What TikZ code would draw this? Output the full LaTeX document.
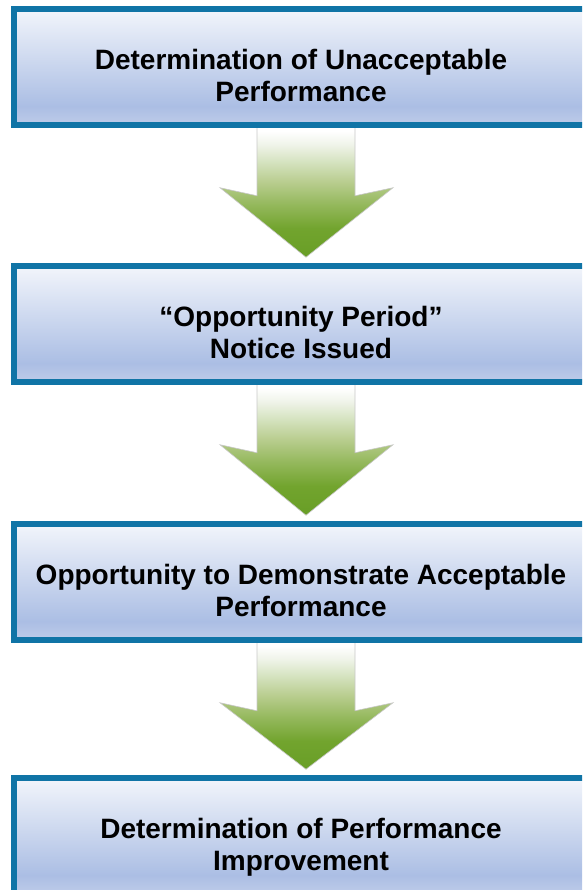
\documentclass[tikz,border=0pt]{standalone}
\usepackage{fontspec}
\setmainfont{Liberation Sans}
\usetikzlibrary{calc,backgrounds}

% frame and pane colours
\definecolor{frameblue}{RGB}{16,116,166}
\definecolor{panetop}{RGB}{242,245,251}
\definecolor{panemid}{RGB}{171,190,228}
\definecolor{panebot}{RGB}{190,204,233}
% arrow colours, from the tip upwards
\definecolor{arA}{RGB}{104,158,38}
\definecolor{arB}{RGB}{114,164,46}
\definecolor{arC}{RGB}{148,184,92}
\definecolor{arD}{RGB}{186,206,145}
\definecolor{arE}{RGB}{212,226,190}
\definecolor{arF}{RGB}{240,244,234}
\definecolor{arrowedge}{RGB}{200,200,200}

\pgfdeclareverticalshading{panefill}{100bp}{%
  color(0bp)=(panebot); color(25bp)=(panebot); color(33bp)=(panemid);
  color(75bp)=(panetop); color(100bp)=(panetop)}
\pgfdeclareverticalshading{arrowfill}{100bp}{%
  color(0bp)=(arA); color(25bp)=(arA); color(36bp)=(arB); color(45bp)=(arC);
  color(54bp)=(arD); color(61bp)=(arE); color(68bp)=(arF);
  color(73bp)=(white); color(100bp)=(white)}

\tikzset{
  panel/.style={rectangle, draw=frameblue, line width=5.5pt, shade, shading=panefill,
    minimum width=600pt, minimum height=116pt, inner sep=0pt},
  caption/.style={anchor=north, inner sep=0pt, align=center, text=black,
    font=\bfseries\fontsize{28}{32.5}\selectfont},
  arrowbody/.style={draw=arrowedge, line width=0.6pt, line join=miter,
    shade, shading=arrowfill}
}

% broad down arrow from the bottom of one pane to the top of the next
\newcommand\downflow[2]{%
  \path[arrowbody]
    ($(#1.south)+(-57,-2)$) -- ($(#1.south)+(-57,68)$) -- ($(#1.south)+(-94,60)$)
    -- ($(#2.north)+(-8,-6)$)
    -- ($(#1.south)+(79,60)$) -- ($(#1.south)+(41,68)$) -- ($(#1.south)+(41,-2)$) -- cycle;}

\begin{document}
\begin{tikzpicture}[x=1pt, y=-1pt]
  \useasboundingbox (0,0) rectangle (582,890);
  \clip (0,0) rectangle (582,890);

  % panes run off the right and bottom edges
  \node[panel] (b1) at (314,67) {};
  \node[panel] (b2) at (314,324) {};
  \node[panel] (b3) at (314,582) {};
  \node[panel] (b4) at (314,836) {};

  \node[caption] (t1) at ($(b1.center)+(-13,-18)$) {Determination of Unacceptable\\Performance};
  \node[caption] (t2) at ($(b2.center)+(-13,-18)$) {“Opportunity Period”\\Notice Issued};
  \node[caption] (t3) at ($(b3.center)+(-13,-18)$) {Opportunity to Demonstrate Acceptable\\Performance};
  \node[caption] (t4) at ($(b4.center)+(-13,-18)$) {Determination of Performance\\Improvement};

  \begin{scope}[on background layer]
    \downflow{b1}{b2}
    \downflow{b2}{b3}
    \downflow{b3}{b4}
  \end{scope}
\end{tikzpicture}
\end{document}
